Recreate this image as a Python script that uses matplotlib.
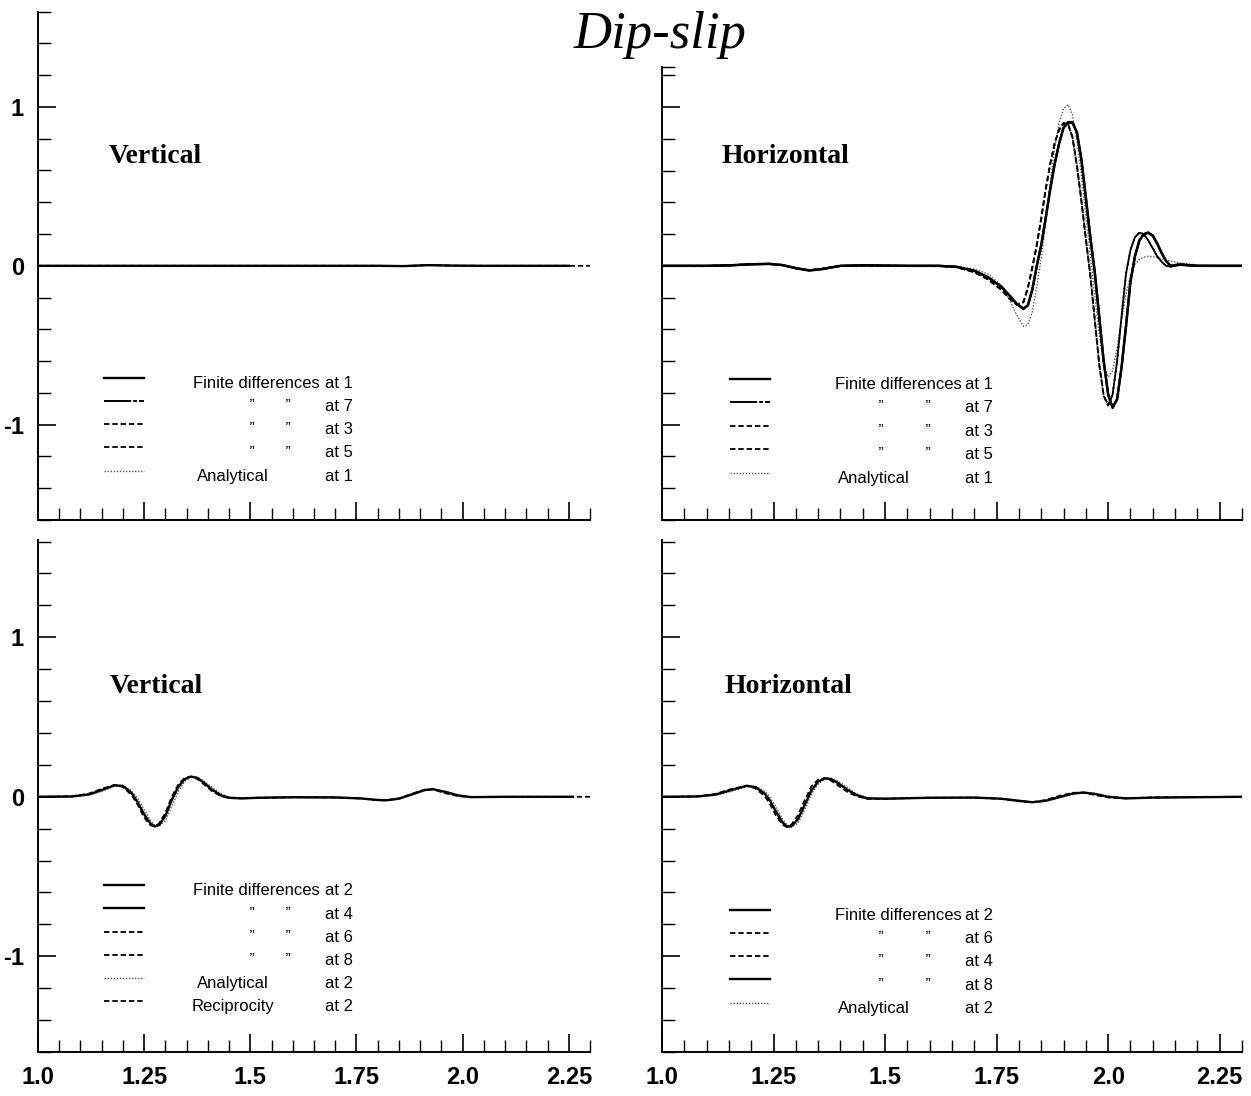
import numpy as np
import matplotlib
matplotlib.use('Agg')
import matplotlib.pyplot as plt

plt.rcParams['font.family'] = ['Liberation Sans', 'DejaVu Sans']

# --- data (time, amplitude) ---

# top left: vertical component, almost flat
t_tl = [1.0, 1.40, 1.80, 1.86, 1.92, 1.98, 2.05, 2.25]
t_tl_dash = [1.0, 1.40, 1.80, 1.86, 1.92, 1.98, 2.05, 2.30]
tl_fd = [0, 0, 0, -0.002, 0.004, 0.001, 0, 0]
tl_dash = [0, 0, 0, -0.002, 0.005, 0.001, 0, 0]
tl_an = [0, 0, 0, -0.001, 0.003, 0.001, 0, 0]

# top right: horizontal component
t_tr = [1.00, 1.10, 1.15, 1.20, 1.24, 1.27, 1.30, 1.33, 1.36, 1.40,
        1.45, 1.55, 1.62, 1.66, 1.70, 1.73, 1.76, 1.78, 1.795, 1.81,
        1.82, 1.83, 1.84, 1.85, 1.86, 1.87, 1.88, 1.89, 1.90,
        1.91, 1.92, 1.93, 1.94, 1.95, 1.96, 1.97, 1.98, 1.99, 2.00,
        2.01, 2.02, 2.03, 2.04, 2.05, 2.06, 2.07, 2.08, 2.09, 2.10,
        2.11, 2.12, 2.13, 2.14, 2.16, 2.20, 2.30]
tr_fd1 = [0, 0, 0.003, 0.010, 0.013, 0.005, -0.015, -0.03, -0.02, 0.0,
          0.003, 0.0, 0.0, -0.006, -0.03, -0.07, -0.13, -0.19, -0.24, -0.272,
          -0.25, -0.15, 0.0, 0.13, 0.30, 0.48, 0.64, 0.77, 0.87,
          0.905, 0.905, 0.84, 0.67, 0.43, 0.18, -0.04, -0.32, -0.60, -0.81,
          -0.895, -0.84, -0.64, -0.38, -0.10, 0.06, 0.16, 0.20, 0.21, 0.19,
          0.14, 0.08, 0.03, 0.0, 0.01, 0.0, 0.0]
tr_fd7 = [0, 0, 0.003, 0.010, 0.012, 0.005, -0.014, -0.028, -0.02, 0.0,
          0.003, 0.0, 0.0, -0.006, -0.032, -0.072, -0.13, -0.19, -0.238, -0.268,
          -0.248, -0.15, 0.0, 0.13, 0.30, 0.48, 0.64, 0.77, 0.87,
          0.90, 0.90, 0.84, 0.67, 0.43, 0.18, -0.04, -0.32, -0.60, -0.81,
          -0.89, -0.84, -0.64, -0.38, -0.10, 0.06, 0.16, 0.20, 0.208, 0.19,
          0.14, 0.08, 0.03, 0.0, 0.008, 0.0, 0.0]
tr_fd3 = [0, 0, 0.003, 0.010, 0.012, 0.004, -0.016, -0.028, -0.018, 0.0,
          0.002, 0.0, 0.0, -0.008, -0.04, -0.085, -0.15, -0.21, -0.245, -0.23,
          -0.14, -0.01, 0.13, 0.30, 0.48, 0.64, 0.77, 0.86, 0.90,
          0.895, 0.81, 0.63, 0.41, 0.17, -0.06, -0.34, -0.62, -0.82, -0.88,
          -0.81, -0.60, -0.32, -0.05, 0.10, 0.18, 0.21, 0.20, 0.16, 0.11,
          0.06, 0.025, 0.0, -0.005, 0.005, 0.0, 0.0]
tr_fd5 = [0, 0, 0.003, 0.010, 0.012, 0.004, -0.016, -0.028, -0.018, 0.0,
          0.002, 0.0, 0.0, -0.008, -0.04, -0.084, -0.148, -0.208, -0.243, -0.228,
          -0.14, -0.01, 0.13, 0.30, 0.48, 0.64, 0.77, 0.855, 0.895,
          0.89, 0.81, 0.63, 0.41, 0.17, -0.06, -0.34, -0.62, -0.815, -0.875,
          -0.81, -0.60, -0.32, -0.05, 0.10, 0.18, 0.208, 0.20, 0.16, 0.11,
          0.06, 0.025, 0.0, -0.005, 0.005, 0.0, 0.0]
tr_an = [0, 0, 0.002, 0.008, 0.010, 0.004, -0.012, -0.025, -0.017, 0.0,
         0.002, 0.0, 0.0, -0.004, -0.02, -0.05, -0.12, -0.22, -0.31, -0.38,
         -0.37, -0.29, -0.13, 0.05, 0.28, 0.52, 0.74, 0.90, 0.99,
         1.015, 0.95, 0.79, 0.57, 0.32, 0.07, -0.19, -0.43, -0.62, -0.70,
         -0.66, -0.52, -0.34, -0.18, -0.06, 0.01, 0.04, 0.055, 0.06, 0.058,
         0.052, 0.045, 0.036, 0.03, 0.018, 0.005, 0.0]

# bottom left: vertical component
t_bl = [1.00, 1.08, 1.12, 1.15, 1.18, 1.20, 1.22, 1.235, 1.25, 1.265,
        1.275, 1.285, 1.30, 1.315, 1.33, 1.345, 1.36, 1.375, 1.39, 1.41,
        1.43, 1.45, 1.48, 1.52, 1.60, 1.70, 1.76, 1.80, 1.82, 1.85,
        1.88, 1.91, 1.93, 1.96, 1.99, 2.02, 2.10, 2.26]
t_bl_dash = [1.00, 1.08, 1.12, 1.15, 1.18, 1.20, 1.22, 1.235, 1.25, 1.265,
             1.275, 1.285, 1.30, 1.315, 1.33, 1.345, 1.36, 1.375, 1.39, 1.41,
             1.43, 1.45, 1.48, 1.52, 1.60, 1.70, 1.76, 1.80, 1.82, 1.85,
             1.88, 1.91, 1.93, 1.96, 1.99, 2.02, 2.10, 2.30]
bl_fd = [0, 0.002, 0.015, 0.042, 0.072, 0.068, 0.025, -0.035, -0.11, -0.168,
         -0.186, -0.178, -0.12, -0.02, 0.06, 0.11, 0.127, 0.118, 0.09, 0.045,
         0.01, -0.006, -0.01, -0.006, -0.003, -0.004, -0.01, -0.02, -0.022, -0.012,
         0.015, 0.042, 0.048, 0.03, 0.008, -0.002, 0.0, 0.0]
bl_dash = [0, 0.003, 0.02, 0.05, 0.074, 0.062, 0.012, -0.05, -0.13, -0.178,
           -0.186, -0.168, -0.10, 0.0, 0.075, 0.118, 0.126, 0.112, 0.08, 0.035,
           0.005, -0.008, -0.01, -0.006, -0.003, -0.004, -0.011, -0.021, -0.022, -0.01,
           0.018, 0.045, 0.046, 0.022, 0.004, -0.002, 0.0, 0.0]
bl_an = [0, 0.001, 0.01, 0.035, 0.066, 0.072, 0.04, -0.01, -0.08, -0.15,
         -0.178, -0.185, -0.15, -0.06, 0.03, 0.095, 0.125, 0.125, 0.10, 0.06,
         0.02, -0.002, -0.01, -0.006, -0.003, -0.004, -0.009, -0.018, -0.022, -0.014,
         0.01, 0.038, 0.048, 0.034, 0.012, 0.0, 0.0, 0.0]

# bottom right: horizontal component
t_br = [1.00, 1.08, 1.12, 1.15, 1.19, 1.21, 1.23, 1.24, 1.255, 1.27,
        1.28, 1.29, 1.305, 1.32, 1.335, 1.35, 1.365, 1.38, 1.395, 1.415,
        1.435, 1.46, 1.50, 1.60, 1.70, 1.76, 1.80, 1.83, 1.86, 1.89,
        1.92, 1.945, 1.97, 2.00, 2.04, 2.10, 2.30]
br_fd = [0, 0.002, 0.014, 0.038, 0.069, 0.06, 0.02, -0.015, -0.09, -0.16,
         -0.186, -0.185, -0.14, -0.05, 0.04, 0.095, 0.117, 0.11, 0.085, 0.045,
         0.012, -0.01, -0.012, -0.006, -0.005, -0.012, -0.025, -0.034, -0.025, -0.002,
         0.02, 0.027, 0.018, 0.0, -0.01, -0.005, 0.0]
br_dash = [0, 0.003, 0.018, 0.045, 0.07, 0.052, 0.005, -0.035, -0.115, -0.175,
           -0.19, -0.175, -0.115, -0.02, 0.065, 0.108, 0.117, 0.10, 0.07, 0.032,
           0.004, -0.012, -0.012, -0.006, -0.005, -0.013, -0.028, -0.034, -0.02, 0.005,
           0.025, 0.026, 0.012, -0.004, -0.01, -0.004, 0.0]
br_an = [0, 0.001, 0.01, 0.03, 0.064, 0.066, 0.035, 0.005, -0.06, -0.14,
         -0.175, -0.19, -0.165, -0.08, 0.015, 0.08, 0.113, 0.117, 0.098, 0.06,
         0.02, -0.006, -0.012, -0.006, -0.005, -0.011, -0.022, -0.033, -0.028, -0.008,
         0.015, 0.026, 0.022, 0.004, -0.008, -0.005, 0.0]

x_major = [1.0, 1.25, 1.5, 1.75, 2.0, 2.25]
x_labels = ['1.0', '1.25', '1.5', '1.75', '2.0', '2.25']
y_major = [-1, 0, 1]
y_labels = ['-1', '0', '1']

# legend rows: (style, name, station)
leg_tl = [('fd1', 'Finite differences', '1'), ('fd7', 'q', '7'), ('dash', 'q', '3'),
          ('dash', 'q', '5'), ('dot', 'Analytical', '1')]
leg_tr = leg_tl
leg_bl = [('fd1', 'Finite differences', '2'), ('fd1', 'q', '4'), ('dash', 'q', '6'),
          ('dash', 'q', '8'), ('dot', 'Analytical', '2'), ('dash', 'Reciprocity', '2')]
leg_br = [('fd1', 'Finite differences', '2'), ('dash', 'q', '6'), ('dash', 'q', '4'),
          ('fd1', 'q', '8'), ('dot', 'Analytical', '2')]

STY = {
    'fd1': dict(color='black', lw=1.7, ls='-'),
    'fd7': dict(color='black', lw=1.4, ls=(0, (14, 1, 2, 1))),
    'dash': dict(color='black', lw=1.3, ls=(0, (3, 1.6))),
    'dot': dict(color='#555555', lw=1.0, ls=(0, (1, 1.2))),
}

fig = plt.figure(figsize=(12.51, 10.96), dpi=100)
W, H = 1251.0, 1096.0


def make_ax(x0, x1, ytop, ybot, ylim):
    ax = fig.add_axes([x0 / W, 1 - ybot / H, (x1 - x0) / W, (ybot - ytop) / H])
    ax.set_xlim(1.0, 2.3)
    ax.set_ylim(*ylim)
    for s in ['top', 'right']:
        ax.spines[s].set_visible(False)
    for s in ['left', 'bottom']:
        ax.spines[s].set_linewidth(1.4)
    ax.set_xticks(x_major)
    ax.set_xticks(np.arange(1.0, 2.301, 0.05), minor=True)
    ax.set_yticks(y_major)
    minor = list(np.arange(-1.6, ylim[1] + 0.01, 0.2))
    if ylim[1] - minor[-1] > 0.02:
        minor.append(ylim[1])
    ax.set_yticks(minor, minor=True)
    ax.tick_params(which='major', direction='in', length=13, width=1.2, pad=10)
    ax.tick_params(which='minor', direction='in', length=9, width=1.0)
    ax.set_xticklabels([])
    ax.set_yticklabels([])
    return ax


def draw_legend(ax, rows, y0, dy, xs):
    tr = ax.get_yaxis_transform()
    for i, (sty, name, st) in enumerate(rows):
        y = y0 - i * dy
        ax.plot([xs['l0'], xs['l1']], [y + 0.035, y + 0.035], transform=tr, **STY[sty])
        kw = dict(transform=tr, fontsize=12, va='center')
        if name == 'Finite differences':
            ax.text(xs['fd'], y, name, ha='left', **kw)
        elif name == 'q':
            ax.text(xs['q1'], y, '\u2019\u2019', ha='center', **kw)
            ax.text(xs['q2'], y, '\u2019\u2019', ha='center', **kw)
        else:
            ax.text(xs['nm'], y, name, ha='center', **kw)
        ax.text(xs['at'], y, 'at ' + st, ha='left', **kw)


XL = dict(l0=0.12, l1=0.192, fd=0.281, q1=0.389, q2=0.453, at=0.52, nm=0.353)
XR = dict(l0=0.118, l1=0.186, fd=0.298, q1=0.379, q2=0.459, at=0.522, nm=0.366)

ax_tl = make_ax(38, 590, 11.6, 520, (-1.6, 1.6))
ax_tr = make_ax(662, 1242, 67.3, 520, (-1.6, 1.25))
ax_bl = make_ax(38, 590, 540, 1052, (-1.6, 1.61))
ax_br = make_ax(662, 1242, 540, 1052, (-1.6, 1.61))

for ax in [ax_tl, ax_bl]:
    ax.set_yticklabels(y_labels, fontsize=17, fontweight='bold')
for ax in [ax_bl, ax_br]:
    ax.set_xticklabels(x_labels, fontsize=17, fontweight='bold')

# top left
ax_tl.plot(t_tl, tl_an, **STY['dot'])
ax_tl.plot(t_tl_dash, tl_dash, **STY['dash'])
ax_tl.plot(t_tl, tl_fd, **STY['fd1'])

# top right
ax_tr.plot(t_tr, tr_an, **STY['dot'])
ax_tr.plot(t_tr, tr_fd5, **STY['dash'])
ax_tr.plot(t_tr, tr_fd3, **STY['dash'])
ax_tr.plot(t_tr, tr_fd7, **STY['fd1'])
ax_tr.plot(t_tr, tr_fd1, **STY['fd1'])

# bottom left
ax_bl.plot(t_bl, bl_an, **STY['dot'])
ax_bl.plot(t_bl_dash, bl_dash, **STY['dash'])
ax_bl.plot(t_bl, bl_fd, **STY['fd1'])

# bottom right
ax_br.plot(t_br, br_an, **STY['dot'])
ax_br.plot(t_br, br_dash, **STY['dash'])
ax_br.plot(t_br, br_fd, **STY['fd1'])

draw_legend(ax_tl, leg_tl, -0.74, 0.146, XL)
draw_legend(ax_tr, leg_tr, -0.745, 0.148, XR)
draw_legend(ax_bl, leg_bl, -0.59, 0.145, XL)
draw_legend(ax_br, leg_br, -0.742, 0.146, XR)

lab = dict(fontsize=20, fontweight='bold', family='Liberation Serif', va='center', ha='left')
ax_tl.text(0.129, 0.69, 'Vertical', transform=ax_tl.get_yaxis_transform(), **lab)
ax_tr.text(0.103, 0.69, 'Horizontal', transform=ax_tr.get_yaxis_transform(), **lab)
ax_bl.text(0.130, 0.69, 'Vertical', transform=ax_bl.get_yaxis_transform(), **lab)
ax_br.text(0.107, 0.69, 'Horizontal', transform=ax_br.get_yaxis_transform(), **lab)

fig.text(660 / W, 1 - 35 / H, 'Dip-slip', fontsize=38, style='italic',
         family='Liberation Serif', ha='center', va='center')

fig.savefig('out.png', dpi=100)
